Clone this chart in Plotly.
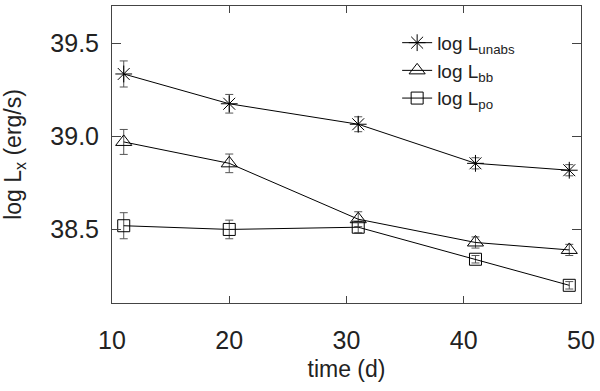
import plotly.graph_objects as go

# observation epochs (days)
t = [11, 20, 31, 41, 49]

# log luminosities and 1-sigma errors
l_unabs = [39.335, 39.175, 39.065, 38.855, 38.818]
e_unabs = [0.07, 0.05, 0.04, 0.03, 0.03]
l_bb = [38.97, 38.855, 38.555, 38.43, 38.39]
e_bb = [0.067, 0.05, 0.04, 0.03, 0.03]
l_po = [38.52, 38.50, 38.512, 38.34, 38.2]
e_po = [0.07, 0.05, 0.03, 0.02, 0.02]

fig = go.Figure()

def add(y, err, sym, size, name):
    fig.add_trace(go.Scatter(
        x=t, y=y, name=name, mode='lines+markers',
        line=dict(color='black', width=1),
        marker=dict(symbol=sym, size=size, color='black', line=dict(width=1, color='black')),
        error_y=dict(type='data', array=err, color='#555', thickness=1, width=4)))

add(l_unabs, e_unabs, 'asterisk-open', 14, 'log L<sub>unabs</sub>')
add(l_bb, e_bb, 'triangle-up-open', 14, 'log L<sub>bb</sub>')
add(l_po, e_po, 'square-open', 12, 'log L<sub>po</sub>')

axis_style = dict(showline=True, mirror='ticks', linecolor='#444', linewidth=1,
                  ticks='inside', tickcolor='#444', showgrid=False, zeroline=False,
                  tickfont=dict(size=25, color='#222'))

fig.update_xaxes(range=[10, 50], tickvals=[10, 20, 30, 40, 50], ticklen=7,
                 ticklabelstandoff=15,
                 title=dict(text='time (d)', font=dict(size=23, color='#222'), standoff=7),
                 **axis_style)
fig.update_yaxes(range=[38.105, 39.70], tickvals=[38.5, 39.0, 39.5], tickformat='.1f',
                 ticklen=9, ticklabelstandoff=7,
                 title=dict(text='log L<sub>x</sub> (erg/s)', font=dict(size=23, color='#222'), standoff=29),
                 **axis_style)

fig.update_layout(
    width=600, height=391,
    margin=dict(l=106, r=16, t=5, b=88),
    plot_bgcolor='white', paper_bgcolor='white',
    font=dict(family='Liberation Sans, Arial, sans-serif', color='#222'),
    legend=dict(x=0.608, y=0.94, xanchor='left', yanchor='top',
                font=dict(size=19), bgcolor='rgba(0,0,0,0)', tracegroupgap=0),
)

fig.write_html("out.html", config={'displayModeBar': False},
               post_script="document.body.style.margin='0';")
